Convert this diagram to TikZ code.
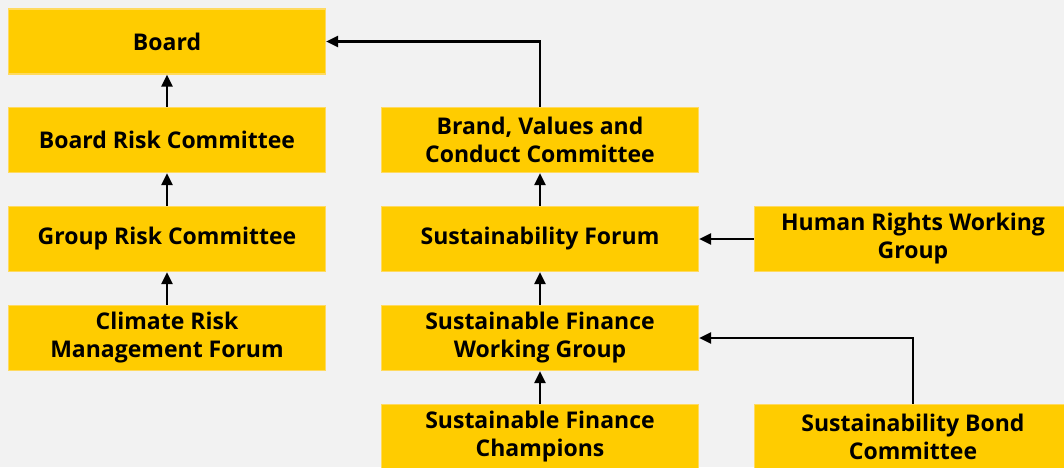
\documentclass[tikz,border=0pt]{standalone}
\usepackage{fontspec}
\setmainfont{Open Sans}
\usetikzlibrary{arrows.meta, positioning}
\definecolor{boxyellow}{RGB}{255, 204, 0}
\definecolor{boxedge}{RGB}{255, 218, 95}
\definecolor{pagegrey}{RGB}{242, 242, 242}

\begin{document}
\begin{tikzpicture}[x=1pt, y=-1pt,
  unit/.style={draw=boxedge, fill=boxyellow, line width=1.2pt, minimum width=317pt, minimum height=65pt, inner sep=0pt, align=center, font=\fontsize{23}{28}\selectfont\bfseries},
  link/.style={line width=2.2pt, -{Triangle[length=12pt, width=11pt]}}]
  \fill[pagegrey] (0,0) rectangle (1064,467);
  \useasboundingbox (0,0) rectangle (1064,467);

  % risk line
  \node[unit] (board) at (167,41.5) {Board};
  \node[unit] (brc) at (167,140) {Board Risk Committee};
  \node[unit] (grc) at (167,239) {Group Risk Committee};
  \node[unit] (crmf) at (167,338) {Climate Risk\\Management Forum};

  % sustainability line
  \node[unit] (bvcc) at (540,140) {Brand, Values and\\Conduct Committee};
  \node[unit] (sforum) at (540,239) {Sustainability Forum};
  \node[unit] (sfwg) at (540,338) {Sustainable Finance\\Working Group};
  \node[unit] (sfchamp) at (540,437) {Sustainable Finance\\Champions};
  \node[unit] (hrwg) at (913,239) {Human Rights Working\\Group};
  \node[unit] (sbc) at (913,437) {Sustainability Bond\\Committee};

  \draw[link] (brc) -- (board);
  \draw[link] (grc) -- (brc);
  \draw[link] (crmf) -- (grc);
  \draw[link] (bvcc.north) |- (board.east);
  \draw[link] (sforum) -- (bvcc);
  \draw[link] (sfwg) -- (sforum);
  \draw[link] (sfchamp) -- (sfwg);
  \draw[link] (hrwg) -- (sforum);
  \draw[link] (sbc.north) |- (sfwg.east);
\end{tikzpicture}
\end{document}
